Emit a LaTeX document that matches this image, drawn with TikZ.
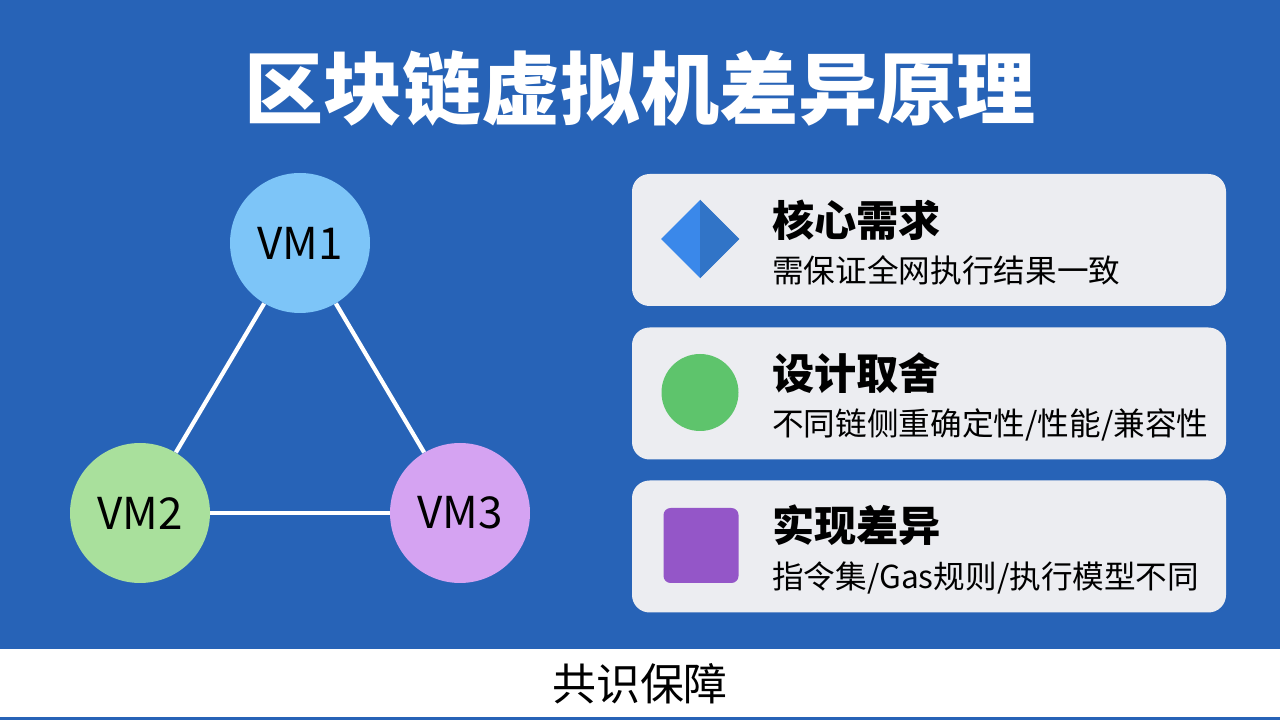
\documentclass[tikz,border=0pt]{standalone}
\usepackage{fontspec}
\setmainfont{Noto Sans CJK SC}
\usetikzlibrary{positioning,shapes.geometric}
\definecolor{bgblue}{HTML}{2763B7}
\definecolor{cardgray}{HTML}{ECEDF1}
\definecolor{vmblue}{HTML}{7DC5F8}
\definecolor{vmgreen}{HTML}{A9E09C}
\definecolor{vmpurple}{HTML}{D5A3F2}
\definecolor{iconblue}{HTML}{3A88EA}
\definecolor{icongreen}{HTML}{5EC46C}
\definecolor{iconpurple}{HTML}{9456C8}

\begin{document}
\begin{tikzpicture}[
  vm/.style={circle,minimum size=2.8cm,inner sep=0pt,
             font=\fontsize{25}{25}\selectfont,text=black},
  card/.style={rectangle,rounded corners=10pt,fill=cardgray,
               minimum width=11.88cm,minimum height=2.64cm},
  cardtitle/.style={anchor=west,font=\fontsize{24}{24}\selectfont\bfseries,
                    text=black,inner sep=0pt},
  cardtext/.style={anchor=west,font=\fontsize{18}{18}\selectfont,
                   text=black,inner sep=0pt},
  link/.style={draw=white,line width=2.4pt}
]

  % ---- Background and bottom band ------------------------------
  \fill[bgblue] (0,0) rectangle (25.6,14.4);
  \fill[white] (0,0.06) rectangle (25.6,1.42);

  \node[text=white,font=\fontsize{45}{45}\selectfont\bfseries] (title)
    at (12.8,12.64) {区块链虚拟机差异原理};

  % ---- VM triangle ---------------------------------------------
  \node[vm,fill=vmblue]   (vm1) at (6.0,9.54) {VM1};
  \node[vm,fill=vmgreen]  (vm2) at (2.8,4.14) {VM2};
  \node[vm,fill=vmpurple] (vm3) at (9.2,4.14) {VM3};

  \draw[link] (vm1) -- (vm2);
  \draw[link] (vm1) -- (vm3);
  \draw[link] (vm2) -- (vm3);

  % ---- Cards (right column) ------------------------------------
  \node[card] (c1) at (18.58,9.60) {};
  \node[card] (c2) at (18.58,6.53) {};
  \node[card] (c3) at (18.58,3.47) {};

  % Icons
  \node[diamond,fill=iconblue,minimum width=1.56cm,minimum height=1.56cm,
        inner sep=0pt] (dia) at (14.0,9.62) {};
  \fill[iconblue!85!black] (dia.north) -- (dia.east) -- (dia.south) -- cycle;
  \node[circle,fill=icongreen,minimum size=1.54cm,inner sep=0pt]
    (dot) at (14.0,6.55) {};
  \node[rectangle,rounded corners=4pt,fill=iconpurple,minimum size=1.5cm,
        inner sep=0pt] (sq) at (14.02,3.49) {};

  % Texts
  \node[cardtitle] (t1) at (15.44,10.00) {核心需求};
  \node[cardtext]  (s1) at (15.44,9.00)  {需保证全网执行结果一致};
  \node[cardtitle] (t2) at (15.44,6.94)  {设计取舍};
  \node[cardtext]  (s2) at (15.44,5.90)  {不同链侧重确定性/性能/兼容性};
  \node[cardtitle] (t3) at (15.44,3.90)  {实现差异};
  \node[cardtext]  (s3) at (15.44,2.84)  {指令集/Gas规则/执行模型不同};

  % ---- Bottom caption ------------------------------------------
  \node[font=\fontsize{25}{25}\selectfont,text=black] (foot)
    at (12.8,0.72) {共识保障};

\end{tikzpicture}
\end{document}
